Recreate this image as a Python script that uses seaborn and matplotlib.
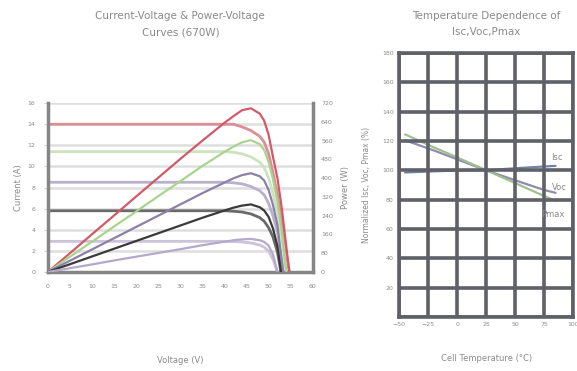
import numpy as np
import pandas as pd
import matplotlib
matplotlib.use("Agg")
import matplotlib.pyplot as plt
import seaborn as sns

# ---- data: I-V / P-V curves (5 irradiance levels) ----
v_base = [0, 5, 10, 15, 20, 25, 30, 35, 40, 42, 44, 46, 48, 49, 50]

v_red = v_base + [51, 52, 53, 54, 54.7]
i_red = [14.0, 14.0, 14.0, 14.0, 14.0, 14.0, 14.0, 14.0, 14.0, 14.0, 13.75, 13.4, 12.85, 12.3, 11.2,
         9.4, 7.3, 4.6, 1.8, 0]
p_red = [0, 80, 161, 241, 322, 402, 482, 560, 636, 664, 690, 698, 675, 645, 585,
         490, 400, 270, 110, 0]

v_green = v_base + [51, 52, 53, 54.0]
i_green = [11.4, 11.4, 11.4, 11.4, 11.4, 11.4, 11.4, 11.4, 11.4, 11.35, 11.2, 10.9, 10.4, 9.9, 8.9,
           7.4, 5.6, 3.2, 0]
p_green = [0, 65, 129, 194, 258, 323, 387, 452, 512, 534, 553, 562, 545, 520, 470,
           395, 300, 170, 0]

v_purple = v_base + [51, 52, 53.3]
i_purple = [8.5, 8.5, 8.5, 8.5, 8.5, 8.5, 8.5, 8.5, 8.5, 8.45, 8.35, 8.1, 7.7, 7.3, 6.5,
            5.3, 3.8, 0]
p_purple = [0, 48, 96, 144, 192, 240, 288, 336, 381, 399, 413, 421, 408, 390, 350,
            285, 200, 0]

v_black = v_base + [51, 52, 52.8]
i_black = [5.8, 5.8, 5.8, 5.8, 5.8, 5.8, 5.8, 5.8, 5.8, 5.75, 5.68, 5.5, 5.15, 4.8, 4.2,
           3.3, 1.9, 0]
p_black = [0, 33, 66, 99, 132, 165, 198, 231, 262, 274, 283, 288, 276, 262, 235,
           185, 110, 0]

v_light = v_base + [51, 52.0]
i_light = [2.9, 2.9, 2.9, 2.9, 2.9, 2.9, 2.9, 2.9, 2.9, 2.88, 2.84, 2.75, 2.55, 2.35, 1.95,
           1.2, 0]
p_light = [0, 16, 32, 49, 65, 81, 97, 114, 129, 135, 139, 141, 135, 128, 112,
           75, 0]

# ---- data: temperature dependence ----
temp = [-45, -20, 0, 25, 50, 75, 85]
isc_pct = [98.5, 99.3, 99.8, 100.0, 101.4, 102.6, 103.0]
voc_pct = [120.5, 113.5, 107.5, 100.0, 93.2, 86.6, 84.6]
pmax_pct = [124.5, 115.6, 108.8, 100.0, 91.3, 82.5, 79.2]

grey_txt = "#8a8a8a"
sns.set_style("white")

fig = plt.figure(figsize=(5.77, 3.71), dpi=100)
ax = fig.add_axes([0.083, 0.267, 0.459, 0.455])
ax2 = ax.twinx()

curves = [
    (v_red, i_red, p_red, "#dc8e94", "#d25a68"),
    (v_green, i_green, p_green, "#cde3bd", "#a9d48d"),
    (v_purple, i_purple, p_purple, "#b9b1cb", "#8c80a8"),
    (v_black, i_black, p_black, "#6a6a6a", "#3a3a3a"),
    (v_light, i_light, p_light, "#cac3da", "#b4a9cc"),
]

for v, i, p, c_iv, c_pv in curves:
    sns.lineplot(x=v, y=i, ax=ax, color=c_iv, linewidth=2.0)
    sns.lineplot(x=v, y=p, ax=ax2, color=c_pv, linewidth=1.6)

ax.set_xlim(0, 60)
ax.set_ylim(0, 16)
ax.set_xticks(range(0, 61, 5))
ax.set_yticks(range(0, 17, 2))
ax2.set_ylim(0, 720)
ax2.set_yticks(range(0, 721, 80))
ax.yaxis.grid(True, color="#dedede", linewidth=1.8)
ax.set_axisbelow(True)

for a in (ax, ax2):
    for s in a.spines.values():
        s.set_visible(False)
ax.spines["left"].set_visible(True)
ax.spines["bottom"].set_visible(True)
ax2.spines["right"].set_visible(True)
for s in (ax.spines["left"], ax.spines["bottom"], ax2.spines["right"]):
    s.set_color("#858585")
    s.set_linewidth(2.5)

ax.tick_params(axis="both", labelsize=4.5, colors="#d0d0d0", labelcolor=grey_txt,
               length=3, width=0.8, pad=6)
ax2.tick_params(axis="y", labelsize=4.5, colors="#d0d0d0", labelcolor=grey_txt,
                length=0, pad=6)

ax.set_xlabel("Voltage (V)", fontsize=6, color=grey_txt)
ax.xaxis.set_label_coords(0.5, -0.5)
ax.set_ylabel("Current (A)", fontsize=6, color=grey_txt, labelpad=3)
ax2.set_ylabel("Power (W)", fontsize=6, color=grey_txt, labelpad=6)
ax.set_title("Current-Voltage & Power-Voltage\nCurves (670W)", fontsize=7.5,
             color=grey_txt, pad=49, linespacing=1.75)

# ---- right chart ----
bx = fig.add_axes([0.692, 0.146, 0.301, 0.711])
sns.lineplot(x=temp, y=isc_pct, ax=bx, color="#6f84a6", linewidth=1.6)
sns.lineplot(x=temp, y=voc_pct, ax=bx, color="#8e8bad", linewidth=1.6)
sns.lineplot(x=temp, y=pmax_pct, ax=bx, color="#9fbf8f", linewidth=1.6)

bx.set_xlim(-50, 100)
bx.set_ylim(0, 180)
bx.set_xticks(range(-50, 101, 25))
bx.set_yticks(range(0, 181, 20))
bx.set_yticklabels([""] + [str(t) for t in range(20, 181, 20)])
bx.grid(True, color="#606168", linewidth=2.6)
bx.set_axisbelow(False)
for s in bx.spines.values():
    s.set_color("#606168")
    s.set_linewidth(2.6)
bx.tick_params(axis="both", labelsize=4.5, colors=grey_txt, length=0, pad=4)

bx.text(86, 109, "Isc", fontsize=6, color=grey_txt, ha="center", va="center")
bx.text(88, 88.5, "Voc", fontsize=6, color=grey_txt, ha="center", va="center")
bx.text(83, 69.5, "Pmax", fontsize=6, color=grey_txt, ha="center", va="center")

bx.set_xlabel("Cell Temperature (°C)", fontsize=6, color=grey_txt, labelpad=19)
bx.set_ylabel("Normalized Isc, Voc, Pmax (%)", fontsize=5.5, color=grey_txt, labelpad=8)
bx.set_title("Temperature Dependence of\nIsc,Voc,Pmax", fontsize=7.5,
             color=grey_txt, pad=13, linespacing=1.75)

plt.savefig("out.png", dpi=100)
